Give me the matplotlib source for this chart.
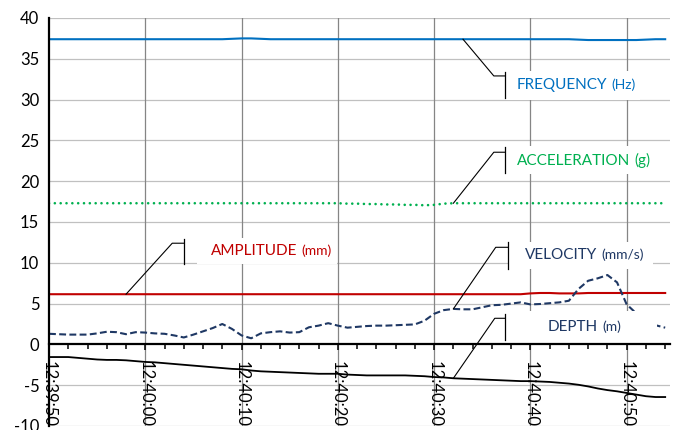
import matplotlib
matplotlib.use("Agg")
import matplotlib.pyplot as plt
import matplotlib.dates as mdates
from matplotlib.patches import Rectangle
from matplotlib.offsetbox import TextArea, HPacker, AnnotationBbox
import numpy as np
import pandas as pd

plt.rcParams["font.family"] = ["Lato", "DejaVu Sans"]

# ---- data: one sample per second starting at 12:39:50 ----
start_time = "2000-01-01 12:39:50"

frequency = [37.4, 37.4, 37.4, 37.4, 37.4, 37.4, 37.4, 37.4, 37.4, 37.4,
             37.4, 37.4, 37.4, 37.4, 37.4, 37.4, 37.4, 37.4, 37.4, 37.45,
             37.5, 37.5, 37.45, 37.4, 37.4, 37.4, 37.4, 37.4, 37.4, 37.4,
             37.4, 37.4, 37.4, 37.4, 37.4, 37.4, 37.4, 37.4, 37.4, 37.4,
             37.4, 37.4, 37.4, 37.4, 37.4, 37.4, 37.4, 37.4, 37.4, 37.4,
             37.4, 37.4, 37.4, 37.4, 37.4, 37.35, 37.3, 37.3, 37.3, 37.3,
             37.3, 37.3, 37.35, 37.4, 37.4]

acceleration = [17.3, 17.3, 17.3, 17.3, 17.3, 17.3, 17.3, 17.3, 17.3, 17.3,
                17.3, 17.3, 17.3, 17.3, 17.3, 17.3, 17.3, 17.3, 17.3, 17.3,
                17.3, 17.3, 17.3, 17.3, 17.3, 17.3, 17.3, 17.3, 17.3, 17.3,
                17.3, 17.25, 17.25, 17.2, 17.2, 17.15, 17.15, 17.1, 17.1, 17.05,
                17.1, 17.25, 17.3, 17.3, 17.3, 17.3, 17.3, 17.3, 17.3, 17.3,
                17.3, 17.3, 17.3, 17.3, 17.3, 17.3, 17.3, 17.3, 17.3, 17.3,
                17.3, 17.3, 17.3, 17.3, 17.3]

amplitude = [6.15, 6.15, 6.15, 6.15, 6.15, 6.15, 6.15, 6.15, 6.15, 6.15,
             6.15, 6.15, 6.15, 6.15, 6.15, 6.15, 6.15, 6.15, 6.15, 6.15,
             6.15, 6.15, 6.15, 6.15, 6.15, 6.15, 6.15, 6.15, 6.15, 6.15,
             6.15, 6.15, 6.15, 6.15, 6.15, 6.15, 6.15, 6.15, 6.15, 6.15,
             6.15, 6.15, 6.15, 6.15, 6.15, 6.15, 6.15, 6.15, 6.15, 6.15,
             6.25, 6.3, 6.3, 6.25, 6.25, 6.25, 6.3, 6.3, 6.3, 6.3,
             6.3, 6.3, 6.3, 6.3, 6.3]

velocity = [1.3, 1.25, 1.2, 1.2, 1.2, 1.35, 1.55, 1.5, 1.25, 1.5,
            1.45, 1.35, 1.3, 1.1, 0.85, 1.2, 1.6, 2.0, 2.5, 1.9,
            1.1, 0.75, 1.35, 1.5, 1.6, 1.45, 1.5, 2.1, 2.3, 2.6,
            2.3, 2.05, 2.15, 2.25, 2.3, 2.3, 2.35, 2.4, 2.45, 2.9,
            3.75, 4.2, 4.35, 4.3, 4.3, 4.55, 4.8, 4.85, 5.0, 5.15,
            4.9, 4.95, 5.05, 5.15, 5.35, 6.8, 7.8, 8.1, 8.5, 7.6,
            4.9, 3.8, 2.9, 2.35, 2.05]

depth = [-1.55, -1.55, -1.55, -1.65, -1.75, -1.85, -1.9, -1.9, -1.95, -2.05,
         -2.15, -2.2, -2.3, -2.4, -2.5, -2.6, -2.7, -2.8, -2.9, -3.0,
         -3.05, -3.2, -3.3, -3.35, -3.4, -3.45, -3.5, -3.55, -3.6, -3.6,
         -3.6, -3.7, -3.75, -3.8, -3.8, -3.8, -3.8, -3.8, -3.85, -3.9,
         -4.0, -4.05, -4.15, -4.2, -4.25, -4.3, -4.35, -4.4, -4.45, -4.5,
         -4.5, -4.55, -4.6, -4.7, -4.8, -4.95, -5.15, -5.4, -5.6, -5.75,
         -5.95, -6.15, -6.35, -6.45, -6.45]

y_ticks = [-10, -5, 0, 5, 10, 15, 20, 25, 30, 35, 40]

# ---- colours ----
C_FREQ = "#0070C0"
C_ACC = "#00B050"
C_AMP = "#C00000"
C_VEL = "#1F3864"
C_DEP = "#000000"
GRID_H = "#c0c0c0"
GRID_V = "#858585"

base = pd.Timestamp(start_time)
times = base + pd.to_timedelta(np.arange(len(velocity)), unit="s")
t0 = mdates.date2num(base.to_pydatetime())


def tx(seconds):
    """Seconds after the first sample -> matplotlib date number."""
    return t0 + seconds / 86400.0


fig = plt.figure(figsize=(6.78, 4.30), dpi=100)
ax = fig.add_axes([49 / 678, 1 - 426 / 430, (670 - 49) / 678, (426 - 18) / 430])

ax.set_xlim(tx(0), tx(64.5))
ax.set_ylim(-10, 40)

# gridlines
for y in y_ticks:
    if y != 0:
        ax.axhline(y, color=GRID_H, lw=0.9, zorder=1)
ax.xaxis.set_major_locator(mdates.SecondLocator(bysecond=range(0, 60, 10)))
ax.xaxis.set_minor_locator(mdates.SecondLocator(bysecond=range(0, 60, 2)))
ax.xaxis.set_major_formatter(mdates.DateFormatter("%H:%M:%S"))
for xv in ax.get_xticks():
    if tx(0.5) < xv <= tx(64.5):
        ax.axvline(xv, color=GRID_V, lw=0.9, zorder=1)

# series
ax.plot(times, frequency, color=C_FREQ, lw=1.5, zorder=2)
ax.plot(times, acceleration, color=C_ACC, lw=1.9,
        linestyle=(0, (0.01, 2.2)), dash_capstyle="round", zorder=2)
ax.plot(times, amplitude, color=C_AMP, lw=1.5, zorder=2)
ax.plot(times, velocity, color=C_VEL, lw=1.5,
        linestyle=(0, (3.3, 1.6)), zorder=2)
ax.plot(times, depth, color=C_DEP, lw=1.3, zorder=2)

# axes styling
for side in ("top", "right"):
    ax.spines[side].set_visible(False)
ax.spines["left"].set_linewidth(1.6)
ax.spines["bottom"].set_linewidth(1.6)
ax.spines["bottom"].set_position(("data", 0))
ax.spines["left"].set_zorder(6)
ax.spines["bottom"].set_zorder(6)

ax.set_yticks(y_ticks)
ax.set_yticklabels([str(v) for v in y_ticks])
ax.tick_params(axis="y", length=0, pad=7, labelsize=12)
ax.tick_params(axis="x", which="major", direction="out", length=4,
               width=1.1, pad=8, labelsize=12, labelrotation=-90)
ax.tick_params(axis="x", which="minor", direction="out", length=3.5, width=1.1)
for lab in ax.get_xticklabels():
    lab.set_va("top")
    lab.set_ha("center")

# data callouts: box (x0, x1, y0, y1) in seconds/value units, leader to a sample
callouts = [
    dict(name="FREQUENCY", unit="(Hz)", color=C_FREQ, series=frequency, idx=43,
         elbow=(46.2, 32.9), bar=(47.35, 30.2, 33.4), box=(47.35, 61.4, 30.0, 33.5),
         small_unit=True),
    dict(name="ACCELERATION", unit="(g)", color=C_ACC, series=acceleration, idx=42,
         elbow=(46.2, 23.55), bar=(47.35, 21.0, 24.2), box=(47.35, 62.9, 20.9, 24.3),
         small_unit=False),
    dict(name="AMPLITUDE", unit="(mm)", color=C_AMP, series=amplitude, idx=8,
         elbow=(12.8, 12.4), bar=(14.0, 9.9, 12.9), box=(15.4, 29.9, 9.85, 13.0),
         small_unit=True),
    dict(name="VELOCITY", unit="(mm/s)", color=C_VEL, series=velocity, idx=42,
         elbow=(46.4, 11.9), bar=(47.7, 9.3, 12.5), box=(47.7, 62.7, 9.2, 12.6),
         small_unit=True),
    dict(name="DEPTH", unit="(m)", color=C_VEL, series=depth, idx=42,
         elbow=(46.3, 3.2), bar=(47.35, 0.5, 3.7), box=(47.35, 63.1, 0.15, 4.05),
         small_unit=True),
]

for c in callouts:
    bx0, bx1, by0, by1 = c["box"]
    ax.add_patch(Rectangle((tx(bx0), by0), tx(bx1) - tx(bx0), by1 - by0,
                           facecolor="white", edgecolor="none", zorder=3))
    px, py = c["idx"], c["series"][c["idx"]]
    ex, ey = c["elbow"]
    barx, bary0, bary1 = c["bar"]
    ax.plot([tx(px), tx(ex), tx(barx)], [py, ey, ey], color="black", lw=0.8, zorder=4)
    ax.plot([tx(barx), tx(barx)], [bary0, bary1], color="black", lw=0.9, zorder=4)
    unit_size = 10 if c["small_unit"] else 11
    packed = HPacker(children=[
        TextArea(c["name"], textprops=dict(color=c["color"], fontsize=11)),
        TextArea(c["unit"], textprops=dict(color=c["color"], fontsize=unit_size)),
    ], align="baseline", pad=0, sep=3)
    ab = AnnotationBbox(packed, (tx((bx0 + bx1) / 2 + 0.4), (by0 + by1) / 2),
                        xycoords="data", box_alignment=(0.5, 0.5),
                        frameon=False, zorder=5)
    ax.add_artist(ab)

fig.savefig("out.png", dpi=100)
